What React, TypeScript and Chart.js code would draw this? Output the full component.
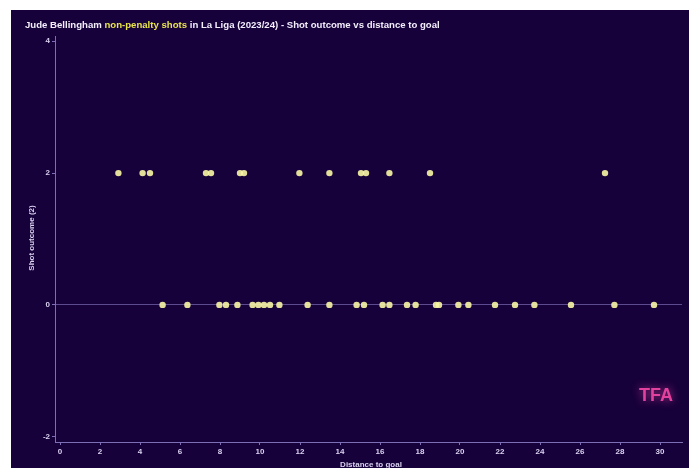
import React, { useEffect, useRef } from 'react';
import { Chart, registerables } from 'chart.js';

Chart.register(...registerables);

// Shots that ended with outcome value 2 (distance to goal, m)
const outcomeTwoDistances = [2.92, 4.13, 4.5, 7.3, 7.55, 9.0, 9.2, 11.97, 13.47, 15.05, 15.3, 16.47, 18.5, 27.25];
// Shots that ended with outcome value 0 (distance to goal, m)
const outcomeZeroDistances = [
  5.13, 6.37, 7.97, 8.3, 8.87, 9.63, 9.92, 10.2, 10.5, 10.97, 12.38, 13.47, 14.83, 15.2,
  16.13, 16.47, 17.35, 17.78, 18.8, 18.95, 19.92, 20.42, 21.75, 22.75, 23.72, 25.55, 27.72, 29.7,
];
const outcomeValues = [2, 0];

const titleParts = ['Jude Bellingham ', 'non-penalty shots', ' in La Liga (2023/24) - Shot outcome vs distance to goal'];
const xAxisTitle = 'Distance to goal';
const yAxisTitle = 'Shot outcome (2)';
const logoText = 'TFA';

const BG = '#17013b';
const AXIS = '#7d6fb6';
const TEXT = '#d9d2f0';
const YELLOW = '#e8e44c';
const FONT = '"Liberation Sans", Arial, sans-serif';

export default function App() {
  const ref = useRef<HTMLCanvasElement | null>(null);

  useEffect(() => {
    if (!ref.current) return;
    const decor = {
      id: 'decor',
      afterDraw(chart: any) {
        const ctx = chart.ctx;
        ctx.save();
        // title
        ctx.font = `bold 9.6px ${FONT}`;
        ctx.textBaseline = 'middle';
        ctx.textAlign = 'left';
        let x = 14;
        titleParts.forEach((t, i) => {
          ctx.fillStyle = i === 1 ? YELLOW : '#f2eefc';
          ctx.fillText(t, x, 15);
          x += ctx.measureText(t).width;
        });
        // axis titles
        ctx.fillStyle = TEXT;
        ctx.font = `bold 8px ${FONT}`;
        ctx.textAlign = 'center';
        ctx.fillText(xAxisTitle, 360, 455);
        ctx.save();
        ctx.translate(21, 228);
        ctx.rotate(-Math.PI / 2);
        ctx.fillText(yAxisTitle, 0, 0);
        ctx.restore();
        // logo
        ctx.font = `bold 18px ${FONT}`;
        ctx.fillStyle = '#e2429e';
        ctx.shadowColor = 'rgba(226,66,158,0.8)';
        ctx.shadowBlur = 8;
        ctx.fillText(logoText, 645, 386);
        ctx.restore();
      },
    };

    const chart = new Chart(ref.current, {
      type: 'scatter',
      data: {
        datasets: [
          {
            data: outcomeTwoDistances.map((d) => ({ x: d, y: outcomeValues[0] })),
            backgroundColor: 'rgba(250,247,165,0.9)',
            borderWidth: 0,
            pointRadius: 3.2,
          },
          {
            data: outcomeZeroDistances.map((d) => ({ x: d, y: outcomeValues[1] })),
            backgroundColor: 'rgba(250,247,165,0.9)',
            borderWidth: 0,
            pointRadius: 3.2,
          },
        ],
      },
      options: {
        responsive: false,
        animation: false,
        layout: { padding: { left: 0, right: 11, top: 26, bottom: 0 } },
        plugins: { legend: { display: false }, tooltip: { enabled: false }, title: { display: false } },
        scales: {
          x: {
            type: 'linear',
            min: -0.25,
            max: 31.1,
            afterFit: (s: any) => { s.height = 28; },
            ticks: { stepSize: 2, includeBounds: false, color: TEXT, font: { size: 8, weight: 'bold', family: FONT }, padding: 2, maxRotation: 0 },
            grid: { drawOnChartArea: false, tickLength: 3, color: AXIS, tickColor: AXIS },
            border: { color: AXIS, width: 1 },
          },
          y: {
            type: 'linear',
            min: -2.08,
            max: 4.08,
            afterFit: (s: any) => { s.width = 44; },
            ticks: { stepSize: 2, includeBounds: false, color: TEXT, font: { size: 8, weight: 'bold', family: FONT }, padding: 2 },
            grid: {
              tickLength: 3,
              tickColor: AXIS,
              color: (c: any) => (c.tick && c.tick.value === 0 ? 'rgba(140,125,200,0.6)' : 'rgba(0,0,0,0)'),
              lineWidth: 1,
            },
            border: { color: AXIS, width: 1 },
          },
        },
      },
      plugins: [decor],
    });
    return () => chart.destroy();
  }, []);

  return (
    <div style={{ marginLeft: 3, marginTop: 2, width: 682, height: 460, background: BG }}>
      <canvas ref={ref} width={682} height={460} style={{ display: 'block' }} />
    </div>
  );
}
